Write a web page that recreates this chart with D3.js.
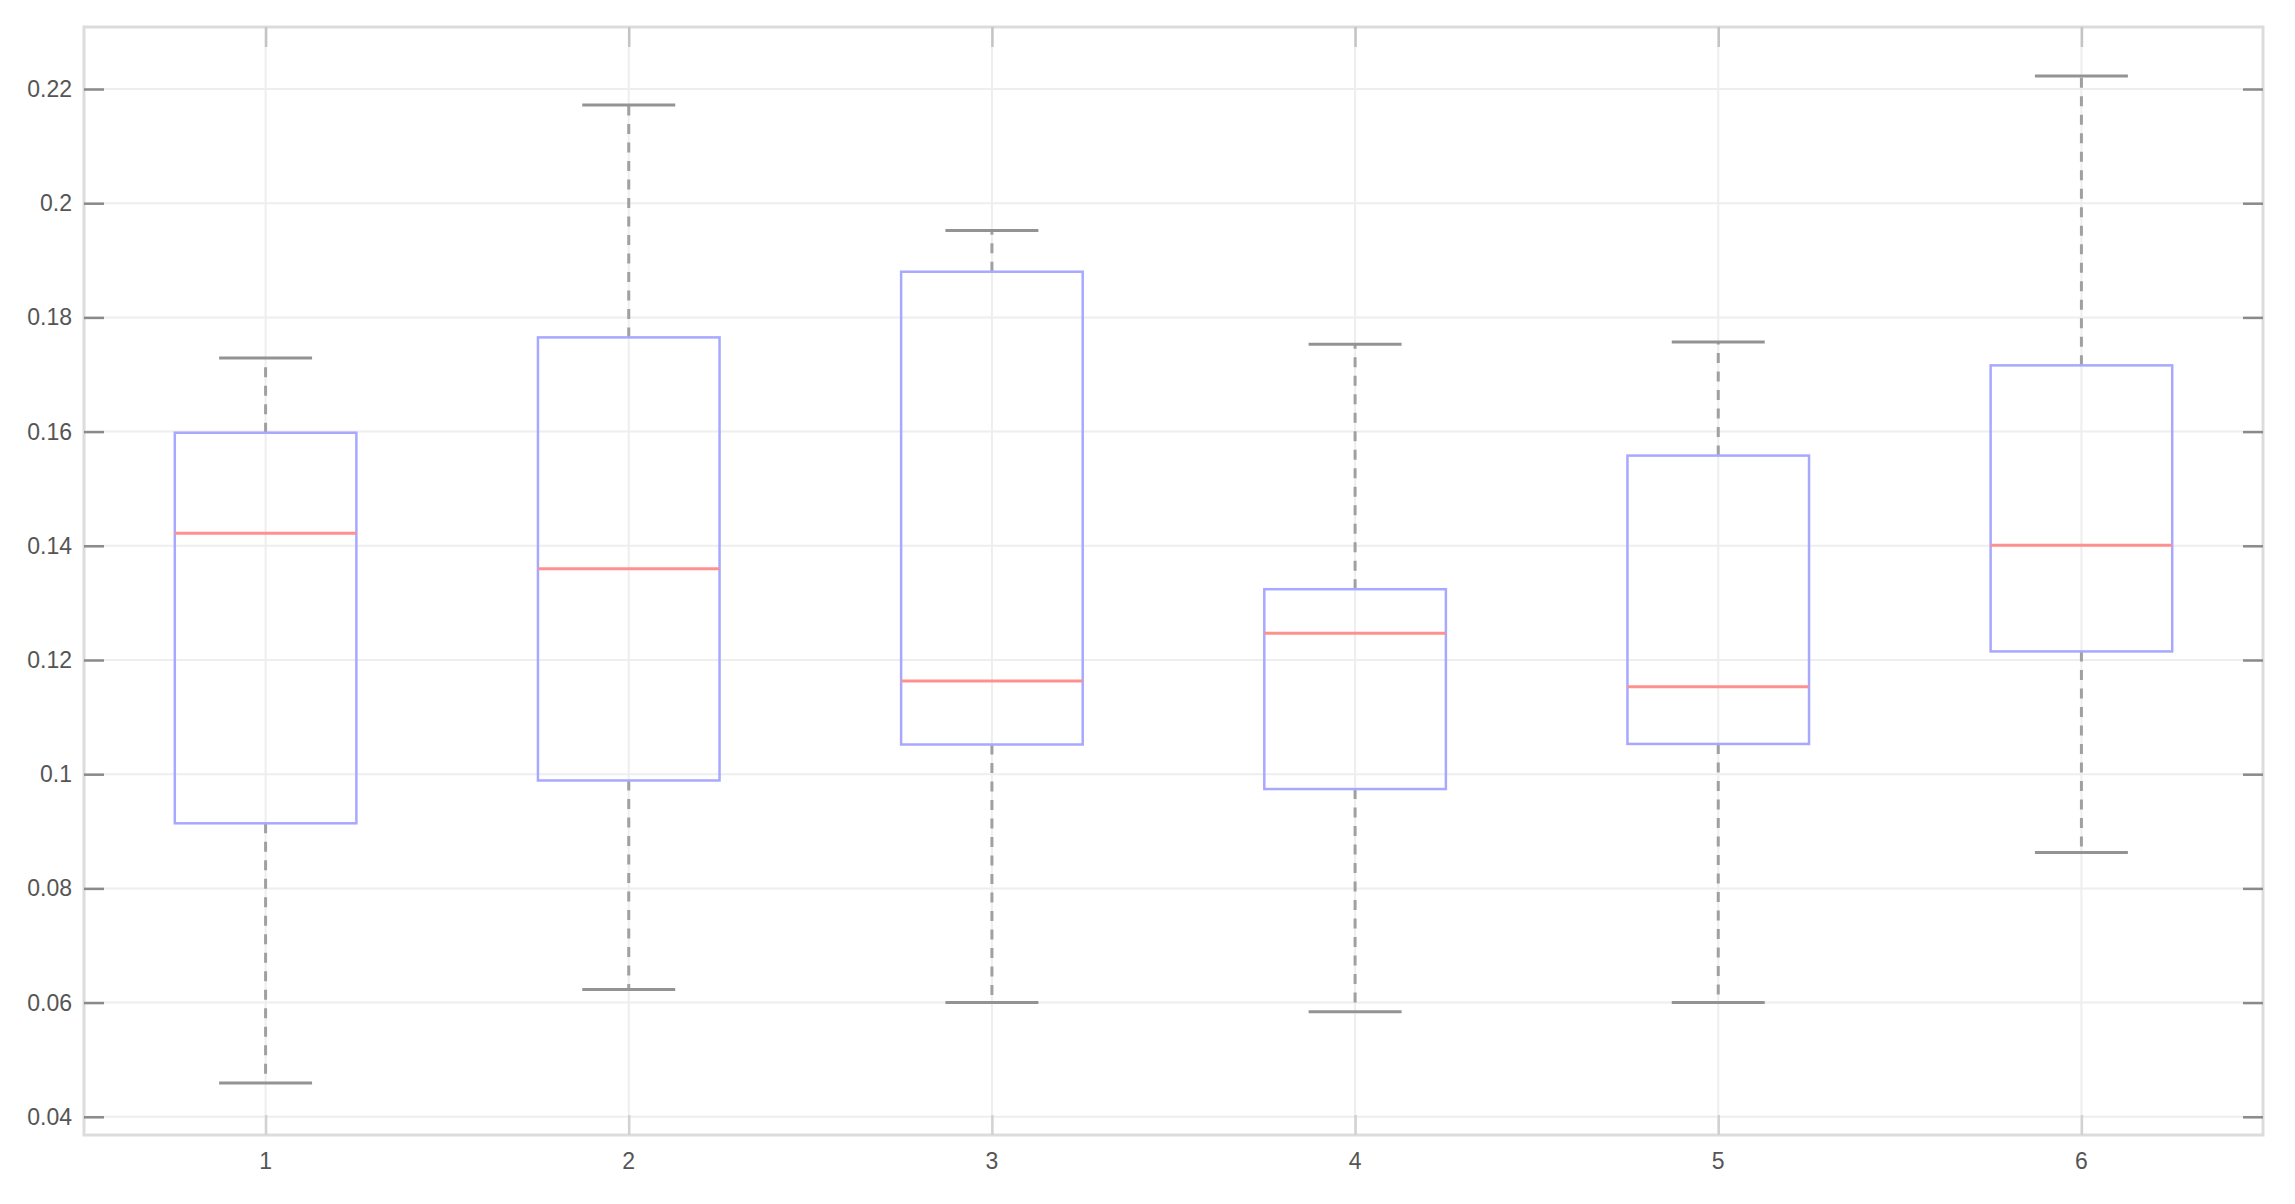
<!DOCTYPE html>
<html>
<head>
<meta charset="utf-8">
<script src="https://cdn.jsdelivr.net/npm/d3@7"></script>
<style>
  body { margin: 0; background: #fff; }
  svg { display: block; }
  .tick_label { font-family: "Liberation Sans", Arial, sans-serif; font-size: 23px; fill: #555; }
</style>
</head>
<body>
<svg id="chart" width="2295" height="1204"></svg>
<script>
// values
var categories = [1, 2, 3, 4, 5, 6];
var whisker_low  = [0.0459, 0.0623, 0.0600, 0.0584, 0.0600, 0.0863];
var quart1       = [0.0914, 0.0989, 0.1052, 0.0974, 0.1053, 0.1215];
var median       = [0.1422, 0.1360, 0.1163, 0.1247, 0.1153, 0.1401];
var quart3       = [0.1598, 0.1765, 0.1880, 0.1324, 0.1558, 0.1716];
var whisker_high = [0.1729, 0.2172, 0.1952, 0.1753, 0.1757, 0.2223];
var y_ticks = [0.04, 0.06, 0.08, 0.1, 0.12, 0.14, 0.16, 0.18, 0.2, 0.22];

var plot_left = 84, plot_right = 2263, plot_top = 27, plot_bottom = 1135;
var svg = d3.select("#chart");

var x = d3.scaleLinear().domain([0.5, 6.5]).range([plot_left, plot_right]);
var y = d3.scaleLinear().domain([0.03681, 0.23086]).range([plot_bottom, plot_top]);

var boxes = categories.map(function(c, i) {
    return {c: c, lo: whisker_low[i], q1: quart1[i], med: median[i],
	    q3: quart3[i], hi: whisker_high[i]};
});

// grid
svg.append("g").selectAll("line").data(y_ticks).enter().append("line")
    .attr("x1", plot_left).attr("x2", plot_right)
    .attr("y1", function(d) { return y(d); }).attr("y2", function(d) { return y(d); })
    .style("stroke", "#eeeeee").style("stroke-width", 2);
svg.append("g").selectAll("line").data(categories).enter().append("line")
    .attr("x1", function(d) { return x(d); }).attr("x2", function(d) { return x(d); })
    .attr("y1", plot_top).attr("y2", plot_bottom)
    .style("stroke", "#eeeeee").style("stroke-width", 2);

// frame
svg.append("rect")
    .attr("x", plot_left).attr("y", plot_top)
    .attr("width", plot_right - plot_left).attr("height", plot_bottom - plot_top)
    .style("fill", "none").style("stroke", "#dcdcdc").style("stroke-width", 3);

// axes with inner ticks
var yl = svg.append("g").attr("transform", "translate(" + plot_left + ",0)")
    .call(d3.axisRight(y).tickValues(y_ticks).tickSize(20).tickFormat(""));
var yr = svg.append("g").attr("transform", "translate(" + plot_right + ",0)")
    .call(d3.axisLeft(y).tickValues(y_ticks).tickSize(20).tickFormat(""));
var xb = svg.append("g").attr("transform", "translate(0," + plot_bottom + ")")
    .call(d3.axisTop(x).tickValues(categories).tickSize(20).tickFormat(""));
var xt = svg.append("g").attr("transform", "translate(0," + plot_top + ")")
    .call(d3.axisBottom(x).tickValues(categories).tickSize(20).tickFormat(""));
[yl, yr, xb, xt].forEach(function(g) {
    g.select(".domain").remove();
    g.selectAll(".tick line").style("stroke", "#8a8a8a").style("stroke-width", 2.5);
});
xb.selectAll(".tick line").style("stroke", "#d2d2d2");
xt.selectAll(".tick line").style("stroke", "#c4c4c4");

// tick labels
svg.append("g").selectAll("text").data(y_ticks).enter().append("text")
    .attr("class", "tick_label")
    .attr("x", plot_left - 12).attr("y", function(d) { return y(d); })
    .attr("dy", "0.35em").attr("text-anchor", "end")
    .text(function(d) { return d3.format("~g")(d); });
svg.append("g").selectAll("text").data(categories).enter().append("text")
    .attr("class", "tick_label")
    .attr("x", function(d) { return x(d); }).attr("y", 1169)
    .attr("text-anchor", "middle")
    .text(function(d) { return d; });

// boxplots
var half_box = 0.25, half_cap = 0.128;
var g = svg.append("g").selectAll("g").data(boxes).enter().append("g");

g.append("line") // upper whisker
    .attr("x1", function(d) { return x(d.c); }).attr("x2", function(d) { return x(d.c); })
    .attr("y1", function(d) { return y(d.q3); }).attr("y2", function(d) { return y(d.hi); })
    .style("stroke", "#a0a0a0").style("stroke-width", 3).style("stroke-dasharray", "10,8.5");
g.append("line") // lower whisker
    .attr("x1", function(d) { return x(d.c); }).attr("x2", function(d) { return x(d.c); })
    .attr("y1", function(d) { return y(d.q1); }).attr("y2", function(d) { return y(d.lo); })
    .style("stroke", "#a0a0a0").style("stroke-width", 3).style("stroke-dasharray", "10,8.5");
["hi", "lo"].forEach(function(k) {
    g.append("line")
	.attr("x1", function(d) { return x(d.c - half_cap); })
	.attr("x2", function(d) { return x(d.c + half_cap); })
	.attr("y1", function(d) { return y(d[k]); }).attr("y2", function(d) { return y(d[k]); })
	.style("stroke", "#939393").style("stroke-width", 3);
});
g.append("rect")
    .attr("x", function(d) { return x(d.c - half_box); })
    .attr("width", function(d) { return x(d.c + half_box) - x(d.c - half_box); })
    .attr("y", function(d) { return y(d.q3); })
    .attr("height", function(d) { return y(d.q1) - y(d.q3); })
    .style("fill", "none").style("stroke", "#a8a8ff").style("stroke-width", 2.5);
g.append("line")
    .attr("x1", function(d) { return x(d.c - half_box); })
    .attr("x2", function(d) { return x(d.c + half_box); })
    .attr("y1", function(d) { return y(d.med); }).attr("y2", function(d) { return y(d.med); })
    .style("stroke", "#ff9090").style("stroke-width", 3);
</script>
</body>
</html>
